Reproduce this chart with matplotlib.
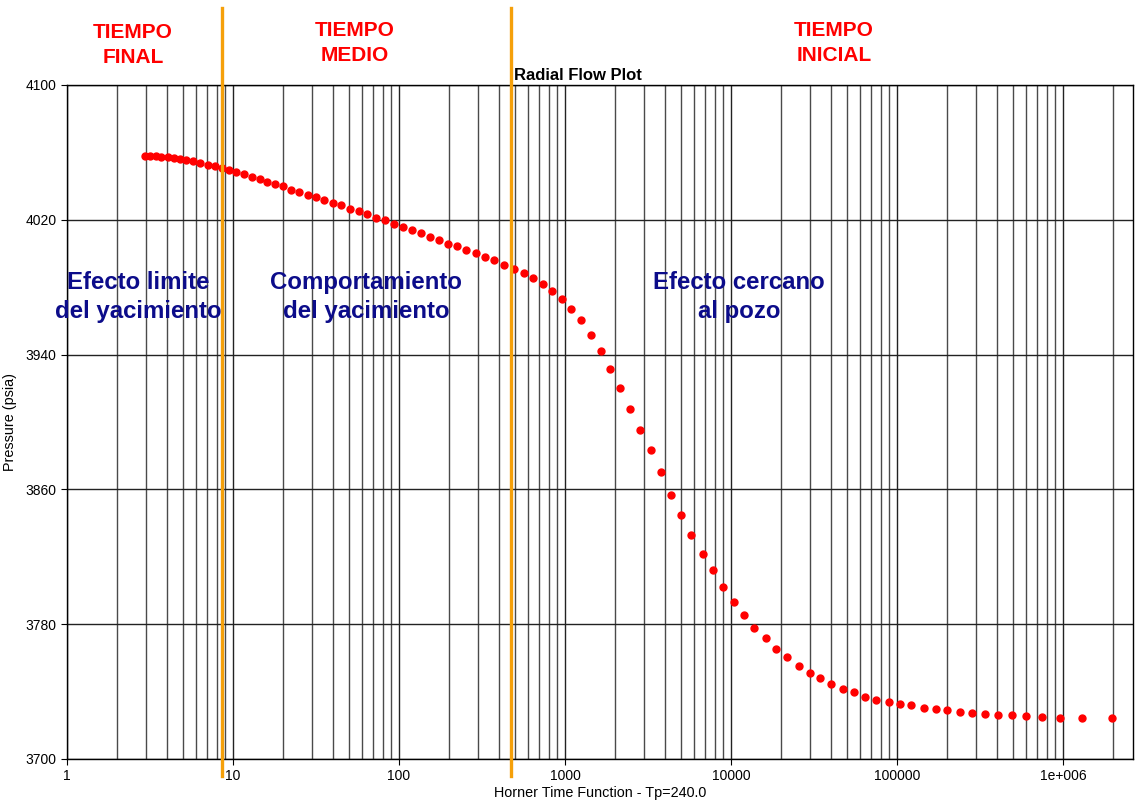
import numpy as np
import matplotlib.pyplot as plt
from matplotlib.ticker import LogLocator, NullFormatter

plt.rcParams['font.family'] = ['Liberation Sans', 'DejaVu Sans']

# Horner time function and pressure
horner = [2.95, 3.16, 3.42, 3.70, 4.04, 4.39, 4.81, 5.23, 5.74, 6.30,
          7.04, 7.76, 8.55, 9.42, 10.4, 11.6, 12.97, 14.5, 16.1, 18.0,
          20.1, 22.5, 25.0, 28.2, 31.6, 35.3, 39.9, 44.9, 50.5, 57.2,
          64.4, 72.7, 82.0, 92.9, 105.2, 119.3, 135.1, 153.1, 173.4, 196.4,
          222.6, 253.3, 290.9, 329.6, 375.0, 430.7, 493.0, 563.9, 638.6, 734.1,
          831.5, 955.5, 1082, 1244, 1435, 1648, 1875, 2154, 2473, 2842,
          3282, 3774, 4353, 5000, 5768, 6760, 7762, 8954, 10470, 12020,
          13810, 16190, 18670, 21840, 25590, 29790, 34390, 40190, 47100, 54830,
          64140, 75020, 89130, 104700, 121900, 145500, 171700, 201000, 239700, 284300,
          337600, 407600, 491000, 601000, 747000, 959000, 1297000, 1981000]
pressure = [4057.9, 4057.8, 4057.6, 4057.2, 4057.0, 4056.5, 4056.1, 4055.5, 4054.6, 4054.0,
            4052.8, 4052.0, 4050.6, 4049.7, 4048.4, 4047.0, 4045.6, 4044.2, 4042.6, 4041.2,
            4040.0, 4037.9, 4036.3, 4035.0, 4033.7, 4031.6, 4030.1, 4028.7, 4026.6, 4025.2,
            4023.4, 4021.1, 4019.7, 4017.7, 4015.6, 4014.1, 4012.2, 4010.0, 4007.8, 4005.8,
            4004.2, 4002.3, 4000.1, 3997.9, 3996.0, 3993.2, 3991.0, 3988.2, 3985.5, 3981.9,
            3977.7, 3972.8, 3967.2, 3960.4, 3951.8, 3942.1, 3931.5, 3920.4, 3907.9, 3895.3,
            3883.4, 3870.1, 3856.9, 3845.0, 3833.1, 3821.8, 3812.0, 3802.3, 3793.2, 3785.6,
            3777.7, 3771.6, 3765.3, 3760.4, 3755.4, 3751.2, 3747.9, 3744.3, 3741.5, 3739.5,
            3736.8, 3735.3, 3734.1, 3732.5, 3731.9, 3730.3, 3729.5, 3728.9, 3727.8, 3727.3,
            3726.9, 3726.1, 3725.9, 3725.3, 3725.1, 3724.5, 3724.4, 3724.3]

xticks = [1, 10, 100, 1000, 10000, 100000, 1000000]
xtick_labels = ['1', '10', '100', '1000', '10000', '100000', '1e+006']
yticks = [3700, 3780, 3860, 3940, 4020, 4100]
region_bounds = [8.63, 470]

fig = plt.figure(figsize=(11.35, 8.01), dpi=100)
ax = fig.add_axes([67 / 1135, 42 / 801, 1066 / 1135, 674 / 801])

ax.set_xscale('log')
ax.set_xlim(1, 2.64e6)
ax.set_ylim(3700, 4100)

ax.xaxis.set_minor_locator(LogLocator(base=10, subs=np.arange(2, 10)))
ax.xaxis.set_minor_formatter(NullFormatter())
ax.set_xticks(xticks)
ax.set_xticklabels(xtick_labels)
ax.set_yticks(yticks)

ax.grid(True, which='major', axis='both', color='#222222', lw=1.0)
ax.grid(True, which='minor', axis='x', color='#4a4a4a', lw=1.0)
ax.set_axisbelow(True)

ax.tick_params(axis='both', which='major', labelsize=10, length=4, color='black')
ax.tick_params(axis='x', which='minor', length=0)
for s in ax.spines.values():
    s.set_color('black')
    s.set_linewidth(1.0)

ax.plot(horner, pressure, 'o', color='red', ms=5.0, mec='red', zorder=4)

# orange region boundaries, running past the axes
for xb in region_bounds:
    ax.plot([xb, xb], [-0.025, 1.114], color='#f5a00a', lw=2.4,
            transform=ax.get_xaxis_transform(), clip_on=False, zorder=5)

ax.set_xlabel('Horner Time Function - Tp=240.0', fontsize=10.4, labelpad=2)
ax.set_ylabel('Pressure (psia)', fontsize=10.4, labelpad=6)

fig.text(514 / 1135, 1 - 75 / 801, 'Radial Flow Plot', fontsize=12,
         fontweight='bold', ha='left', va='center')

red_kw = dict(color='#ff0000', fontsize=15, fontweight='bold', ha='center',
              va='center', linespacing=1.4)
fig.text(133 / 1135, 1 - 45 / 801, 'TIEMPO\nFINAL', **red_kw)
fig.text(355 / 1135, 1 - 43 / 801, 'TIEMPO\nMEDIO', **red_kw)
fig.text(834 / 1135, 1 - 43 / 801, 'TIEMPO\nINICIAL', **red_kw)

blue_kw = dict(color='#0c0c8a', fontsize=17.3, fontweight='bold', ha='center',
               va='center', linespacing=1.3)
fig.text(138 / 1135, 1 - 297 / 801, 'Efecto limite\ndel yacimiento', **blue_kw)
fig.text(366 / 1135, 1 - 297 / 801, 'Comportamiento\ndel yacimiento', **blue_kw)
fig.text(739 / 1135, 1 - 297 / 801, 'Efecto cercano\nal pozo', **blue_kw)

fig.savefig('out.png', dpi=100)
